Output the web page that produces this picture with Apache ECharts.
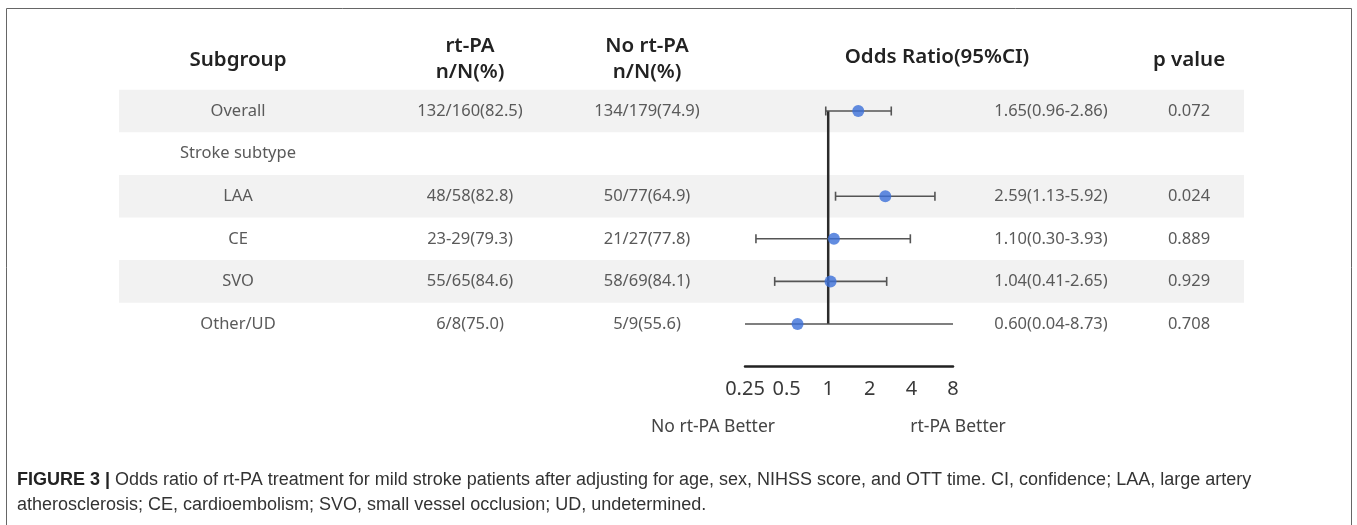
<!DOCTYPE html>
<html>
<head>
<meta charset="utf-8">
<script src="https://cdn.jsdelivr.net/npm/echarts@6/dist/echarts.min.js"></script>
<style>
html,body{margin:0;padding:0;background:#fff;}
#chart{width:1357px;height:525px;}
</style>
</head>
<body>
<div id="chart"></div>
<script>
// ---- data ----
var subgroups = ['Overall', 'Stroke subtype', 'LAA', 'CE', 'SVO', 'Other/UD'];
var rtpaCounts = ['132/160(82.5)', '', '48/58(82.8)', '23-29(79.3)', '55/65(84.6)', '6/8(75.0)'];
var noRtpaCounts = ['134/179(74.9)', '', '50/77(64.9)', '21/27(77.8)', '58/69(84.1)', '5/9(55.6)'];
var oddsRatios = [1.65, null, 2.59, 1.10, 1.04, 0.60];
var ciLower = [0.96, null, 1.13, 0.30, 0.41, 0.04];
var ciUpper = [2.86, null, 5.92, 3.93, 2.65, 8.73];
var pValues = ['0.072', '', '0.024', '0.889', '0.929', '0.708'];
var shadedRows = [0, 2, 4];
var axisTicks = [0.25, 0.5, 1, 2, 4, 8];
var headerCols = ['Subgroup', 'rt-PA\nn/N(%)', 'No rt-PA\nn/N(%)', 'Odds Ratio(95%CI)', 'p value'];
var sideLabels = ['No rt-PA Better', 'rt-PA Better'];
var captionBold = 'FIGURE 3 |';
var captionLine1 = ' Odds ratio of rt-PA treatment for mild stroke patients after adjusting for age, sex, NIHSS score, and OTT time. CI, confidence; LAA, large artery';
var captionLine2 = 'atherosclerosis; CE, cardioembolism; SVO, small vessel occlusion; UD, undetermined.';

var AXMIN = axisTicks[0], AXMAX = axisTicks[axisTicks.length - 1];
function fmt(v){ return v.toFixed(2); }
var orText = oddsRatios.map(function(v, i){
  return v == null ? '' : fmt(v) + '(' + fmt(ciLower[i]) + '-' + fmt(ciUpper[i]) + ')';
});

// layout constants
var COLX = [238, 470, 647, 1051, 1189];
var BAND_L = 119, BAND_R = 1244;
var FONT = '"Noto Sans", "Open Sans", sans-serif';

var chart = echarts.init(document.getElementById('chart'), null, {renderer: 'canvas'});
var rowsIdx = subgroups.map(function(_, i){ return i; });

var option = {
  animation: false,
  backgroundColor: '#fff',
  grid: {left: 745, width: 208, top: 89.7, height: 276.9, outerBoundsMode: 'none', containLabel: false},
  xAxis: {
    type: 'log', logBase: 2, min: AXMIN, max: AXMAX, interval: 1,
    axisLine: {show: true, onZero: false, lineStyle: {color: '#222', width: 2.5}},
    axisTick: {show: false},
    splitLine: {show: false},
    axisLabel: {
      show: true, fontSize: 20, color: '#3a3a3a', fontFamily: FONT, margin: 13,
      showMinLabel: true, showMaxLabel: true,
      formatter: function(v){
        var best = axisTicks.reduce(function(a, b){ return Math.abs(Math.log2(b) - Math.log2(v)) < Math.abs(Math.log2(a) - Math.log2(v)) ? b : a; });
        return String(best);
      }
    }
  },
  yAxis: {type: 'value', inverse: true, min: -0.5, max: 6, show: false},
  series: [
    // shaded bands
    {
      type: 'custom', silent: true, z: 1, clip: false,
      data: shadedRows.map(function(r){ return [1, r]; }),
      renderItem: function(params, api){
        var y = api.coord([1, api.value(1)])[1];
        var h = api.size([0, 1])[1];
        return {type: 'rect', shape: {x: BAND_L, y: y - h / 2, width: BAND_R - BAND_L, height: h},
                style: {fill: '#f2f2f2'}};
      }
    },
    // table text
    {
      type: 'custom', silent: true, z: 5, clip: false,
      data: rowsIdx.map(function(i){ return [1, i]; }),
      renderItem: function(params, api){
        var i = params.dataIndex;
        var y = api.coord([1, api.value(1)])[1];
        var cells = [subgroups[i], rtpaCounts[i], noRtpaCounts[i], orText[i], pValues[i]];
        return {type: 'group', children: cells.map(function(t, c){
          return {type: 'text', style: {text: t, x: COLX[c], y: y, align: 'center', verticalAlign: 'middle',
                  font: '16.5px ' + FONT, fill: '#5a5a5a'}};
        })};
      }
    },
    // reference line at OR = 1
    {
      type: 'custom', silent: true, z: 6, clip: false,
      data: [[1, 0, subgroups.length - 1]],
      renderItem: function(params, api){
        var a = api.coord([api.value(0), api.value(1)]);
        var b = api.coord([api.value(0), api.value(2)]);
        return {type: 'line', shape: {x1: a[0], y1: a[1], x2: b[0], y2: b[1]},
                style: {stroke: '#2b2b2b', lineWidth: 2.5}};
      }
    },
    // CI whiskers
    {
      type: 'custom', silent: true, z: 7, clip: false,
      data: rowsIdx.filter(function(i){ return oddsRatios[i] != null; }).map(function(i){
        return [ciLower[i], ciUpper[i], i];
      }),
      renderItem: function(params, api){
        var lo = api.value(0), hi = api.value(1), r = api.value(2);
        var loC = Math.max(lo, AXMIN), hiC = Math.min(hi, AXMAX);
        var p1 = api.coord([loC, r]), p2 = api.coord([hiC, r]);
        var st = {stroke: '#555', lineWidth: 1.6};
        var ch = [{type: 'line', shape: {x1: p1[0], y1: p1[1], x2: p2[0], y2: p2[1]}, style: st}];
        if (lo >= AXMIN) ch.push({type: 'line', shape: {x1: p1[0], y1: p1[1] - 4.5, x2: p1[0], y2: p1[1] + 4.5}, style: st});
        if (hi <= AXMAX) ch.push({type: 'line', shape: {x1: p2[0], y1: p2[1] - 4.5, x2: p2[0], y2: p2[1] + 4.5}, style: st});
        return {type: 'group', children: ch};
      }
    },
    // point estimates
    {
      type: 'scatter', z: 8, symbol: 'circle', symbolSize: 12,
      itemStyle: {color: '#3b6fd8'},
      data: rowsIdx.filter(function(i){ return oddsRatios[i] != null; }).map(function(i){
        return [oddsRatios[i], i];
      })
    }
  ]
};

// headers and other text via graphic
var g = [];
g.push({type: 'rect', silent: true, z: 100, shape: {x: 6.5, y: 8.5, width: 1345, height: 700},
        style: {fill: null, stroke: '#666', lineWidth: 1}});
var headerY = [60, 59, 59, 57, 60];
headerCols.forEach(function(t, c){
  g.push({type: 'text', z: 10, style: {text: t, x: COLX[c] + (c === 3 ? -114 : 0), y: headerY[c], align: 'center', verticalAlign: 'middle',
          font: '600 20.5px ' + FONT, fill: '#222', lineHeight: 26}});
});
g.push({type: 'text', z: 10, style: {text: sideLabels[0], x: 713, y: 427, align: 'center', verticalAlign: 'middle', font: '17.5px ' + FONT, fill: '#444'}});
g.push({type: 'text', z: 10, style: {text: sideLabels[1], x: 958, y: 427, align: 'center', verticalAlign: 'middle', font: '17.5px ' + FONT, fill: '#444'}});
g.push({type: 'text', z: 10, style: {
  text: '{b|' + captionBold + '}{n|' + captionLine1 + '}\n{n|' + captionLine2 + '}',
  x: 17, y: 468, align: 'left', verticalAlign: 'top',
  rich: {
    b: {font: 'bold 18px "Liberation Sans", Arial, sans-serif', fill: '#222', lineHeight: 25},
    n: {font: '18px "Liberation Sans", Arial, sans-serif', fill: '#333', lineHeight: 25}
  }
}});
option.graphic = {elements: g};

chart.setOption(option);
</script>
</body>
</html>
